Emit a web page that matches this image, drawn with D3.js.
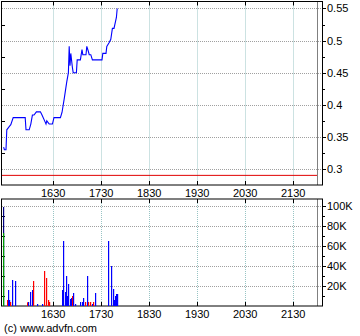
<!DOCTYPE html>
<html>
<head>
<meta charset="utf-8">
<script src="https://cdn.jsdelivr.net/npm/d3@7"></script>
<style>
  body { margin: 0; background: #fff; }
  text { font-family: "Liberation Sans", Arial, sans-serif; font-size: 11px; fill: #000; }
</style>
</head>
<body>
<div id="chart"></div>
<script>
// Price data (time, price)
var priceTimes = ["15:28","15:29","15:31","15:32","15:35","15:37","15:40","15:55","15:56","16:00",
  "16:02","16:04","16:06","16:09","16:14","16:16","16:20","16:21","16:22","16:25",
  "16:29","16:31","16:39","16:41","16:44","16:46","16:47","16:49","16:50","16:51",
  "16:52","16:54","16:55","16:59","17:00","17:04","17:05","17:06","17:07","17:11",
  "17:12","17:14","17:15","17:17","17:19","17:31","17:32","17:36","17:37","17:40",
  "17:42","17:44","17:46","17:49","17:50"];
var prices = [0.334,0.330,0.330,0.361,0.366,0.369,0.380,0.380,0.361,0.361,
  0.370,0.384,0.384,0.389,0.389,0.384,0.373,0.370,0.375,0.370,
  0.370,0.380,0.380,0.388,0.411,0.428,0.436,0.450,0.491,0.461,
  0.480,0.458,0.450,0.450,0.470,0.470,0.478,0.486,0.478,0.478,
  0.491,0.483,0.478,0.478,0.470,0.470,0.480,0.480,0.491,0.497,
  0.502,0.519,0.519,0.536,0.550];
var prevClose = 0.29;

// Volume data (time, volume, trade type)
var volTimes = ["15:27","15:27","15:32","15:34","15:35","15:36","15:39","15:42","15:57","15:59",
  "16:01","16:04","16:05","16:10","16:16","16:19","16:21","16:24","16:25","16:41",
  "16:42","16:45","16:46","16:47","16:49","16:51","16:52","16:54","16:55","16:57",
  "17:04","17:06","17:07","17:10","17:12","17:14","17:16","17:19","17:20","17:22",
  "17:39","17:42","17:45","17:46","17:47","17:49","17:50"];
var volumes = [99000,73000,6000,16000,6000,4000,26000,25000,3700,4000,
  14000,16000,25000,2000,2000,35000,28000,6000,4000,16000,
  65000,14000,30000,10000,22000,7000,8000,10000,13000,2000,
  4000,4000,8000,4000,30000,4000,4000,2000,4000,13000,
  65000,40000,17000,6000,10000,12000,12000];
var volTypes = ["open","neutral","sell","buy","buy","sell","buy","buy","sell","buy",
  "buy","buy","sell","buy","buy","sell","sell","sell","sell","buy",
  "buy","buy","buy","buy","buy","buy","buy","sell","buy","buy",
  "buy","buy","buy","sell","buy","sell","sell","buy","sell","buy",
  "buy","buy","buy","buy","buy","buy","buy"];

// Axis ticks
var timeTicks = ["16:30","17:30","18:30","19:30","20:30","21:30"];
var priceTicks = [0.3, 0.35, 0.4, 0.45, 0.5, 0.55];
var priceMinor = [0.325, 0.375, 0.425, 0.475, 0.525];
var volTicks = [20000, 40000, 60000, 80000, 100000];
var volLabels = ["20K","40K","60K","80K","100K"];
var volMinor = [10000, 30000, 50000, 70000, 90000];
var sessionEnd = "22:00";

var parseTime = d3.timeParse("%H:%M");
var typeColor = { buy: "#0000ff", sell: "#ff0000", neutral: "#00a000", open: "#000080" };

var svg = d3.select("#chart").append("svg")
  .attr("width", 360)
  .attr("height", 336);

var left = 2, right = 322;
var x = d3.scaleTime()
  .domain([parseTime("15:26"), parseTime("22:06")])
  .range([left, right]);

// Price panel
var pTop = 1.5, pBottom = 185;
var yP = d3.scaleLinear().domain([0.275, 0.5609]).range([pBottom, pTop]);

// Volume panel
var vTop = 199, vBottom = 306;
var yV = d3.scaleLinear().domain([0, 107000]).range([vBottom, vTop]);

function drawPanel(top, bottom, yScale, major, minor, labels) {
  var g = svg.append("g");
  // horizontal grid
  g.selectAll(".hg").data(major).enter().append("line")
    .attr("x1", left).attr("x2", right)
    .attr("y1", d => Math.round(yScale(d)) + 0.5)
    .attr("y2", d => Math.round(yScale(d)) + 0.5)
    .attr("stroke", "#a0a0a0").attr("stroke-dasharray", "1,1");
  // vertical grid
  g.selectAll(".vg").data(timeTicks).enter().append("line")
    .attr("x1", d => Math.round(x(parseTime(d))) + 0.5)
    .attr("x2", d => Math.round(x(parseTime(d))) + 0.5)
    .attr("y1", top).attr("y2", bottom)
    .attr("stroke", "#98c4c4").attr("stroke-dasharray", "1,1");
  // session end line
  g.append("line")
    .attr("x1", Math.round(x(parseTime(sessionEnd))) + 0.5)
    .attr("x2", Math.round(x(parseTime(sessionEnd))) + 0.5)
    .attr("y1", top).attr("y2", bottom)
    .attr("stroke", "#808080");
  // x ticks top and bottom inside
  g.selectAll(".xt").data(timeTicks).enter().append("path")
    .attr("d", d => {
      var xx = Math.round(x(parseTime(d))) + 0.5;
      return "M" + xx + "," + top + "v4M" + xx + "," + bottom + "v-4";
    })
    .attr("stroke", "#000");
  // y ticks: right side outside, left side inside
  g.selectAll(".ytM").data(major).enter().append("path")
    .attr("d", d => {
      var yy = Math.round(yScale(d)) + 0.5;
      return "M" + right + "," + yy + "h4";
    })
    .attr("stroke", "#000");
  g.selectAll(".ytm").data(minor).enter().append("path")
    .attr("d", d => {
      var yy = Math.round(yScale(d)) + 0.5;
      return "M" + right + "," + yy + "h3M" + left + "," + yy + "h3";
    })
    .attr("stroke", "#000");
  // y labels
  g.selectAll(".yl").data(major).enter().append("text")
    .attr("x", right + 5)
    .attr("y", d => yScale(d) + 4)
    .text((d, i) => labels[i]);
  // x labels under panel
  g.selectAll(".xl").data(timeTicks).enter().append("text")
    .attr("x", d => x(parseTime(d)))
    .attr("y", bottom + 12)
    .attr("text-anchor", "middle")
    .text(d => d3.timeFormat("%H%M")(parseTime(d)));
  return g;
}

drawPanel(pTop, pBottom, yP, priceTicks, priceMinor, priceTicks.map(String));
drawPanel(vTop, vBottom, yV, volTicks, volMinor, volLabels);

// panel borders
[[pTop, pBottom], [vTop, vBottom]].forEach(function(p) {
  svg.append("rect")
    .attr("x", left - 0.5).attr("y", p[0])
    .attr("width", right - left + 1).attr("height", p[1] - p[0])
    .attr("fill", "none").attr("stroke", "#000");
});

// previous close line
svg.append("line")
  .attr("x1", left).attr("x2", Math.round(x(parseTime(sessionEnd))))
  .attr("y1", yP(prevClose)).attr("y2", yP(prevClose))
  .attr("stroke", "#e00000");

// price line
var priceData = priceTimes.map((t, i) => ({ t: parseTime(t), v: prices[i] }));
svg.append("path")
  .datum(priceData)
  .attr("fill", "none")
  .attr("stroke", "#0000ff")
  .attr("stroke-width", 1.1)
  .attr("d", d3.line().x(d => x(d.t)).y(d => yP(d.v)));

// volume bars
var volData = volTimes.map((t, i) => ({ t: parseTime(t), v: volumes[i], k: volTypes[i] }));
svg.selectAll(".bar").data(volData).enter().append("rect")
  .attr("x", d => Math.round(x(d.t)))
  .attr("y", d => yV(d.v))
  .attr("width", 1.2)
  .attr("height", d => vBottom - yV(d.v))
  .attr("fill", d => typeColor[d.k]);

svg.append("text")
  .attr("x", 4).attr("y", 332)
  .text("(c) www.advfn.com");
</script>
</body>
</html>
